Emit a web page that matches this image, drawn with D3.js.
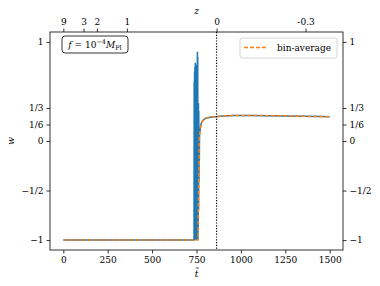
<!DOCTYPE html>
<html>
<head>
<meta charset="utf-8">
<script src="https://cdn.jsdelivr.net/npm/d3@7"></script>
<style>
  body { margin: 0; background: #fff; }
  svg { display: block; }
</style>
</head>
<body>
<div id="chart"></div>
<script>
// blue: raw w(t) with the oscillating burst near t ~ 740-765
const rawT = [0, 736, 737, 738, 739, 740, 741, 742, 743, 744, 745, 746, 747, 748, 749, 750,
  751, 752, 753, 754, 755, 756, 757, 758, 759, 760, 761, 762, 763, 764, 765, 766, 767,
  770, 774, 780, 790, 800, 825, 855, 900, 960, 1050, 1150, 1250, 1350, 1450, 1500];
const rawW = [-1, -1, 0.6, -1, 0.7, -0.95, 0.75, -1, 0.79, -0.9, 0.72, -1, 0.77, -0.95, 0.68, -1,
  0.3, -1, 0.5, -0.9, 0.9, -0.8, 0.85, -1, 0.35, -0.9, 0.38, -0.7, 0.3, -0.4, 0.12, -0.2, 0.06,
  0.1, 0.16, 0.195, 0.215, 0.228, 0.24, 0.245, 0.252, 0.257, 0.258, 0.256, 0.253, 0.249, 0.246, 0.245];

// orange: bin-average
const binT = [0, 758, 766, 772, 780, 790, 800, 825, 855, 900, 960, 1050, 1150, 1250, 1350, 1450, 1500];
const binW = [-1, -1, 0.04, 0.13, 0.19, 0.215, 0.228, 0.24, 0.245, 0.252, 0.257, 0.258, 0.256, 0.253, 0.249, 0.246, 0.245];

const xTicks = [0, 250, 500, 750, 1000, 1250, 1500];
const yTicks = [1, 1/3, 1/6, 0, -1/2, -1];
const yTickLabels = ["1", "1/3", "1/6", "0", "\u22121/2", "\u22121"];
// top axis: redshift z placed at the t where it is reached
const zTickT = [0, 114, 189, 358, 863, 1364];
const zTickLabels = ["9", "3", "2", "1", "0", "-0.3"];
const tZero = 863;

const W = 380, H = 286;
const margin = {top: 32, right: 37, bottom: 36, left: 50};

const svg = d3.select("#chart").append("svg")
  .attr("width", W).attr("height", H)
  .style("font-family", "DejaVu Serif").style("font-size", "9px");

const x = d3.scaleLinear().domain([-75, 1575]).range([margin.left, W - margin.right]);
const y = d3.scaleLinear().domain([-1.1, 1.1]).range([H - margin.bottom, margin.top]);

svg.append("clipPath").attr("id", "clip").append("rect")
  .attr("x", margin.left).attr("y", margin.top)
  .attr("width", W - margin.left - margin.right).attr("height", H - margin.top - margin.bottom);

const plot = svg.append("g").attr("clip-path", "url(#clip)");

const line = d3.line().x(d => x(d[0])).y(d => y(d[1]));

plot.append("path")
  .datum(d3.zip(rawT, rawW))
  .attr("d", line)
  .attr("fill", "none")
  .attr("stroke", "#1f77b4")
  .attr("stroke-width", 1.5);

plot.append("path")
  .datum(d3.zip(binT, binW))
  .attr("d", line)
  .attr("fill", "none")
  .attr("stroke", "#ff7f0e")
  .attr("stroke-width", 1.5)
  .attr("stroke-dasharray", "4,2");

plot.append("line")
  .attr("x1", x(tZero)).attr("x2", x(tZero))
  .attr("y1", margin.top).attr("y2", H - margin.bottom)
  .attr("stroke", "#000").attr("stroke-width", 1.2)
  .attr("stroke-dasharray", "1.2,1.6");

// axes
const tickStyle = g => {
  g.attr("font-family", null).attr("font-size", null);
  g.select(".domain").remove();
  g.selectAll(".tick line").attr("stroke", "#000").attr("stroke-width", 0.8);
  g.selectAll(".tick text").attr("fill", "#000");
};

svg.append("g")
  .attr("transform", `translate(0,${H - margin.bottom})`)
  .call(d3.axisBottom(x).tickValues(xTicks).tickFormat(d3.format("d")).tickSize(3.5).tickPadding(3.5))
  .call(tickStyle);

svg.append("g")
  .attr("transform", `translate(0,${margin.top})`)
  .call(d3.axisTop(x).tickValues(zTickT).tickFormat((d, i) => zTickLabels[i]).tickSize(3.5).tickPadding(3.5))
  .call(tickStyle);

svg.append("g")
  .attr("transform", `translate(${margin.left},0)`)
  .call(d3.axisLeft(y).tickValues(yTicks).tickFormat((d, i) => yTickLabels[i]).tickSize(3.5).tickPadding(3))
  .call(tickStyle);

svg.append("g")
  .attr("transform", `translate(${W - margin.right},0)`)
  .call(d3.axisRight(y).tickValues(yTicks).tickFormat((d, i) => yTickLabels[i]).tickSize(3.5).tickPadding(3))
  .call(tickStyle);

// frame
svg.append("rect")
  .attr("x", margin.left).attr("y", margin.top)
  .attr("width", W - margin.left - margin.right).attr("height", H - margin.top - margin.bottom)
  .attr("fill", "none").attr("stroke", "#000").attr("stroke-width", 0.8);

// axis labels
const cx = (margin.left + W - margin.right) / 2;
svg.append("text").attr("x", cx).attr("y", 14).attr("text-anchor", "middle")
  .attr("font-style", "italic").text("z");
svg.append("text").attr("x", cx).attr("y", 277).attr("text-anchor", "middle")
  .attr("font-style", "italic").text("t\u0303");
svg.append("text")
  .attr("transform", `translate(14,${(margin.top + H - margin.bottom) / 2}) rotate(-90)`)
  .attr("text-anchor", "middle").attr("font-style", "italic").text("w");

// annotation box
svg.append("rect")
  .attr("x", 62).attr("y", 36).attr("width", 66).attr("height", 17)
  .attr("rx", 3).attr("fill", "#fff").attr("stroke", "#000").attr("stroke-width", 0.8);
const ann = svg.append("text").attr("x", 95).attr("y", 48).attr("text-anchor", "middle");
ann.append("tspan").attr("font-style", "italic").text("f");
ann.append("tspan").text(" = 10");
ann.append("tspan").attr("dy", -4).attr("font-size", 6.5).text("\u22124");
ann.append("tspan").attr("dy", 4).attr("font-style", "italic").text("M");
ann.append("tspan").attr("dy", 1.5).attr("font-size", 6.5).text("Pl");

// legend
svg.append("rect")
  .attr("x", 240).attr("y", 38).attr("width", 97).attr("height", 20)
  .attr("rx", 2).attr("fill", "#fff").attr("fill-opacity", 0.8)
  .attr("stroke", "#ccc").attr("stroke-width", 0.8);
svg.append("line")
  .attr("x1", 244).attr("x2", 268).attr("y1", 47.5).attr("y2", 47.5)
  .attr("stroke", "#ff7f0e").attr("stroke-width", 1.5).attr("stroke-dasharray", "4,2");
svg.append("text").attr("x", 277).attr("y", 51).text("bin-average");
</script>
</body>
</html>
